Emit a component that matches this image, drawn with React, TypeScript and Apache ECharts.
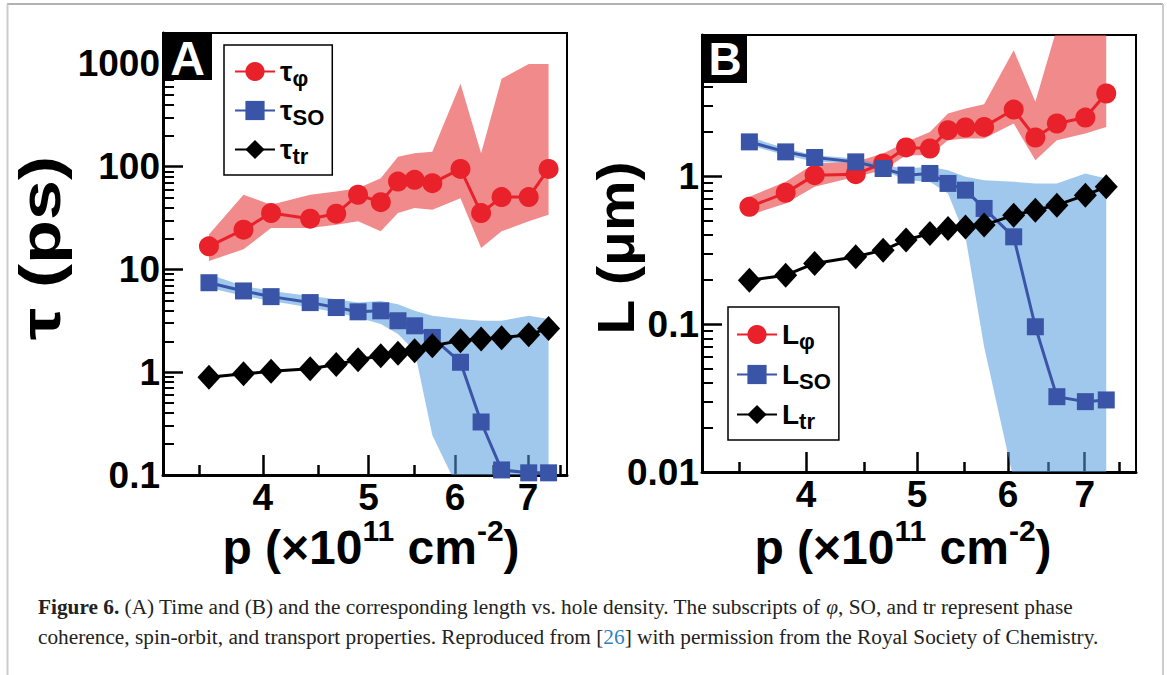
import React, { useEffect, useRef } from 'react';
import * as echarts from 'echarts';

// hole density p (x10^11 cm^-2)
const pDensity = [3.57, 3.84, 4.07, 4.42, 4.67, 4.89, 5.13, 5.32, 5.51, 5.72, 6.07, 6.34, 6.62, 7.01, 7.31];

// Panel A: times (ps)
const tauPhi = [16.8, 24.4, 35.4, 31.2, 34.9, 53.3, 45.2, 71.7, 74.5, 69.1, 95.2, 35.4, 50.6, 50.6, 95.2];
const tauPhiLow = [12.1, 15.7, 25.3, 25.3, 27.3, 29.4, 23.5, 35.4, 39.6, 38.2, 49.4, 16.2, 23.5, 29.4, 34.1];
const tauPhiHigh = [21.9, 53.3, 42.7, 53.3, 57.4, 61.8, 77.2, 125, 135, 140, 641, 135, 718, 1000, 1000];
const tauSO = [7.43, 6.18, 5.44, 4.76, 4.26, 3.87, 3.96, 3.17, 2.83, 2.18, 1.25, 0.328, 0.112, 0.105, 0.105];
const tauSOLow = [6.65, 5.52, 4.94, 4.26, 3.81, 3.41, 2.94, 2.35, 1.62, 0.244, 0.066, 0.01, 0.01, 0.01, 0.01];
const tauSOHigh = [8.96, 6.91, 6.18, 5.52, 5.13, 4.76, 4.94, 4.59, 3.96, 3.54, 3.29, 3.17, 3.17, 3.54, 3.29];
const tauTr = [0.895, 0.965, 1.02, 1.08, 1.19, 1.32, 1.45, 1.53, 1.62, 1.81, 2.03, 2.11, 2.16, 2.32, 2.67];

// Panel B: lengths (um)
const LPhi = [0.62, 0.771, 1.016, 1.032, 1.219, 1.563, 1.538, 2.046, 2.133, 2.153, 2.82, 1.826, 2.27, 2.49, 3.62];
const LPhiLow = [0.545, 0.654, 0.847, 0.989, 1.098, 1.387, 1.387, 1.75, 1.8, 1.8, 2.27, 1.283, 1.75, 1.943, 2.153];
const LPhiHigh = [0.725, 0.916, 1.219, 1.249, 1.423, 1.705, 1.992, 2.65, 2.87, 3.06, 7.1, 3.18, 10, 20, 20];
const LSO = [1.705, 1.459, 1.337, 1.249, 1.127, 1.016, 1.043, 0.893, 0.804, 0.605, 0.389, 0.0959, 0.0323, 0.0299, 0.0307];
const LSOLow = [1.62, 1.387, 1.249, 1.219, 1.098, 0.94, 0.916, 0.764, 0.389, 0.0702, 0.0088, 0.002, 0.002, 0.002, 0.002];
const LSOHigh = [1.844, 1.538, 1.387, 1.317, 1.187, 1.127, 1.156, 1.098, 0.989, 0.94, 0.916, 0.893, 0.893, 1.043, 0.964];
const LTr = [0.198, 0.214, 0.257, 0.285, 0.316, 0.37, 0.41, 0.443, 0.454, 0.467, 0.545, 0.589, 0.637, 0.744, 0.847];

// ticks
const xLabels = [4, 5, 6, 7];
const xMinorTicks = [3.5, 4.5, 5.5, 6.5, 7.5];
const yLabelsA = [0.1, 1, 10, 100, 1000];
const yMinorA = [0.2, 0.3, 0.4, 0.5, 0.6, 0.7, 0.8, 0.9, 2, 3, 4, 5, 6, 7, 8, 9, 20, 30, 40, 50, 60, 70, 80, 90, 200, 300, 400, 500, 600, 700, 800, 900];
const yLabelsB = [0.01, 0.1, 1];
const yMinorB = [0.02, 0.03, 0.04, 0.05, 0.06, 0.07, 0.08, 0.09, 0.2, 0.3, 0.4, 0.5, 0.6, 0.7, 0.8, 0.9, 2, 3, 4, 5, 6, 7, 8, 9];

const legendA = ['τφ', 'τSO', 'τtr'];
const legendB = ['Lφ', 'LSO', 'Ltr'];
const legendRich: Record<string, string> = {
  'τφ': '{m|τ}{s|φ}', 'τSO': '{m|τ}{s|SO}', 'τtr': '{m|τ}{s|tr}',
  'Lφ': '{m|L}{s|φ}', 'LSO': '{m|L}{s|SO}', 'Ltr': '{m|L}{s|tr}',
};

const FONT = '"Liberation Sans", Arial, sans-serif';
const RED = '#e8212a';
const BLUE = '#3a55a8';
const RED_BAND = 'rgba(232,60,60,0.6)';
const BLUE_BAND = 'rgba(80,155,220,0.55)';

const pairs = (ys: number[]) => pDensity.map((x, i) => [x, ys[i]]);

function xAxes(gridIndex: number, min: number, max: number) {
  const base = {
    type: 'log', logBase: 10, gridIndex, min, max, position: 'bottom',
    splitLine: { show: false }, minorTick: { show: false }, minorSplitLine: { show: false },
    axisPointer: { show: false }, silent: true,
  };
  return [
    {
      ...base,
      axisLine: { show: true, lineStyle: { color: '#000', width: 3 } },
      axisTick: { show: true, inside: true, length: 20, lineStyle: { color: '#000', width: 2.5 }, customValues: xLabels },
      axisLabel: {
        show: true, customValues: xLabels, formatter: (v: number) => String(v),
        fontSize: 37, lineHeight: 30, fontWeight: 'bold', fontFamily: FONT, color: '#000', margin: 7,
      },
    },
    {
      ...base,
      axisLine: { show: false },
      axisTick: { show: true, inside: true, length: 10, lineStyle: { color: '#000', width: 2.5 }, customValues: xMinorTicks },
      axisLabel: { show: false },
    },
  ];
}

function yAxes(gridIndex: number, min: number, max: number, labels: number[], minor: number[]) {
  const base = {
    type: 'log', logBase: 10, gridIndex, min, max, position: 'left',
    splitLine: { show: false }, minorTick: { show: false }, minorSplitLine: { show: false },
    axisPointer: { show: false }, silent: true,
  };
  return [
    {
      ...base,
      axisLine: { show: true, lineStyle: { color: '#000', width: 3 } },
      axisTick: { show: true, inside: true, length: 20, lineStyle: { color: '#000', width: 2.5 }, customValues: labels },
      axisLabel: {
        show: true, customValues: labels, formatter: (v: number) => String(v),
        fontSize: 37, lineHeight: 30, fontWeight: 'bold', fontFamily: FONT, color: '#000', margin: 3,
      },
    },
    {
      ...base,
      axisLine: { show: false },
      axisTick: { show: true, inside: true, length: 11, lineStyle: { color: '#000', width: 2 }, customValues: minor },
      axisLabel: { show: false },
    },
  ];
}

// shaded uncertainty band drawn as one polygon through the axis scales
function band(xi: number, yi: number, lo: number[], hi: number[], color: string) {
  return {
    type: 'custom', coordinateSystem: 'cartesian2d', xAxisIndex: xi, yAxisIndex: yi,
    data: pDensity.map((x, i) => [x, lo[i], hi[i]]),
    encode: { x: 0, y: [1, 2] },
    silent: true, z: 1,
    renderItem: (params: any, api: any) => {
      if (params.dataIndex !== 0) return null;
      const upper = pDensity.map((x, i) => api.coord([x, hi[i]]));
      const lower = pDensity.map((x, i) => api.coord([x, lo[i]])).reverse();
      const cs = params.coordSys;
      return {
        type: 'polygon',
        shape: { points: upper.concat(lower) },
        style: { fill: color },
        clipPath: { type: 'rect', shape: { x: cs.x, y: cs.y, width: cs.width, height: cs.height } },
      };
    },
  };
}

function mainSeries(name: string, xi: number, yi: number, ys: number[], color: string, symbol: string, size: any) {
  return {
    name, type: 'line', xAxisIndex: xi, yAxisIndex: yi, data: pairs(ys),
    symbol, symbolSize: size, showAllSymbol: true,
    itemStyle: { color }, lineStyle: { color, width: 3 }, z: 3,
  };
}

const legendTextStyle = {
  rich: {
    m: { fontSize: 28, fontWeight: 'bold', fontFamily: FONT, color: '#000', lineHeight: 28 },
    s: { fontSize: 22, fontWeight: 'bold', fontFamily: FONT, color: '#000', lineHeight: 22, padding: [13, 0, 0, 0] },
  },
};

function legend(data: string[], left: number, top: number, padding: number[], gap: number) {
  return {
    data, orient: 'vertical', left, top, padding, itemGap: gap, itemWidth: 40, itemHeight: 24,
    borderColor: '#000', borderWidth: 1.5, backgroundColor: '#fff', selectedMode: false,
    formatter: (n: string) => legendRich[n] || n, textStyle: legendTextStyle,
  };
}

const titleRich = {
  m: { fontSize: 48, fontWeight: 'bold', fontFamily: FONT, fill: '#000', lineHeight: 56, verticalAlign: 'bottom' },
  s: { fontSize: 30, fontWeight: 'bold', fontFamily: FONT, fill: '#000', lineHeight: 30, verticalAlign: 'top' },
};

const SERIF = '"Liberation Serif", "Times New Roman", serif';
const CAP = 21.3;

export default function App() {
  const ref = useRef<HTMLDivElement>(null);
  useEffect(() => {
    if (!ref.current) return;
    const chart = echarts.init(ref.current, undefined, { renderer: 'svg' });
    const option: any = {
      animation: false,
      backgroundColor: '#fff',
      grid: [
        { left: 163, top: 33, width: 404, height: 442, show: true, borderColor: '#000', borderWidth: 2, backgroundColor: 'transparent' },
        { left: 702, top: 35, width: 434, height: 437, show: true, borderColor: '#000', borderWidth: 2, backgroundColor: 'transparent' },
      ],
      xAxis: [...xAxes(0, 3.24, 7.6), ...xAxes(1, 3.246, 7.76)],
      yAxis: [...yAxes(0, 0.1, 2000, yLabelsA, yMinorA), ...yAxes(1, 0.01, 9, yLabelsB, yMinorB)],
      legend: [
        legend(legendA, 224, 45, [9, 8, 8, 10], 4),
        legend(legendB, 728, 307, [10, 8, 8, 8], 5),
      ],
      series: [
        band(0, 0, tauPhiLow, tauPhiHigh, RED_BAND),
        band(0, 0, tauSOLow, tauSOHigh, BLUE_BAND),
        mainSeries('τφ', 0, 0, tauPhi, RED, 'circle', 20),
        mainSeries('τSO', 0, 0, tauSO, BLUE, 'rect', 17),
        mainSeries('τtr', 0, 0, tauTr, '#000', 'diamond', [23, 25]),
        band(2, 2, LPhiLow, LPhiHigh, RED_BAND),
        band(2, 2, LSOLow, LSOHigh, BLUE_BAND),
        mainSeries('Lφ', 2, 2, LPhi, RED, 'circle', 20),
        mainSeries('LSO', 2, 2, LSO, BLUE, 'rect', 17),
        mainSeries('Ltr', 2, 2, LTr, '#000', 'diamond', [23, 25]),
      ],
      graphic: [
        { type: 'line', shape: { x1: 7, y1: 4, x2: 1163, y2: 4 }, style: { stroke: '#999', lineWidth: 1.5 }, z: 100, silent: true },
        { type: 'line', shape: { x1: 7.5, y1: 4, x2: 7.5, y2: 675 }, style: { stroke: '#ccc', lineWidth: 2 }, z: 100, silent: true },
        { type: 'line', shape: { x1: 1163, y1: 4, x2: 1163, y2: 675 }, style: { stroke: '#ccc', lineWidth: 2 }, z: 100, silent: true },
        { type: 'rect', shape: { x: 163, y: 33, width: 49, height: 47 }, style: { fill: '#000' }, z: 100, silent: true },
        { type: 'text', x: 187.5, y: 58, style: { text: 'A', fill: '#fff', font: 'bold 48px "Liberation Sans", Arial, sans-serif', align: 'center', verticalAlign: 'middle' }, z: 101, silent: true },
        { type: 'rect', shape: { x: 702, y: 35, width: 45, height: 48 }, style: { fill: '#000' }, z: 100, silent: true },
        { type: 'text', x: 725, y: 59, style: { text: 'B', fill: '#fff', font: 'bold 46px "Liberation Sans", Arial, sans-serif', align: 'center', verticalAlign: 'middle' }, z: 101, silent: true },
        { type: 'text', x: 371, y: 543, style: { text: '{m|p (×10}{s|11}{m| cm}{s|-2}{m|)}', rich: titleRich, align: 'center', verticalAlign: 'middle' }, z: 100, silent: true },
        { type: 'text', x: 903, y: 543, style: { text: '{m|p (×10}{s|11}{m| cm}{s|-2}{m|)}', rich: titleRich, align: 'center', verticalAlign: 'middle' }, z: 100, silent: true },
        { type: 'text', x: 40, y: 248, rotation: Math.PI / 2, scaleY: 0.8, style: { text: 'τ (ps)', fill: '#000', font: 'bold 72px "Liberation Sans", Arial, sans-serif', align: 'center', verticalAlign: 'middle' }, z: 100, silent: true },
        { type: 'text', x: 616, y: 248, rotation: Math.PI / 2, scaleY: 0.9, style: { text: 'L (μm)', fill: '#000', font: 'bold 57px "Liberation Sans", Arial, sans-serif', align: 'center', verticalAlign: 'middle' }, z: 100, silent: true },
        {
          type: 'text', x: 38, y: 592, z: 100, silent: true,
          style: {
            text: '{b|Figure 6.} (A) Time and (B) and the corresponding length vs. hole density. The subscripts of {i|φ}, SO, and tr represent phase\ncoherence, spin-orbit, and transport properties. Reproduced from [{c|26}] with permission from the Royal Society of Chemistry.',
            fontFamily: SERIF, fontSize: CAP, fill: '#222', lineHeight: 30,
            align: 'left', verticalAlign: 'top',
            rich: {
              b: { fontFamily: SERIF, fontSize: CAP, fontWeight: 'bold', fill: '#222', lineHeight: 30 },
              i: { fontFamily: SERIF, fontSize: CAP, fontStyle: 'italic', fill: '#222', lineHeight: 30 },
              c: { fontFamily: SERIF, fontSize: CAP, fill: '#2f7fc1', lineHeight: 30 },
            },
          },
        },
      ],
    };
    chart.setOption(option);
    return () => chart.dispose();
  }, []);
  return <div ref={ref} style={{ position: 'absolute', left: 0, top: 0, width: 1167, height: 675 }} />;
}
